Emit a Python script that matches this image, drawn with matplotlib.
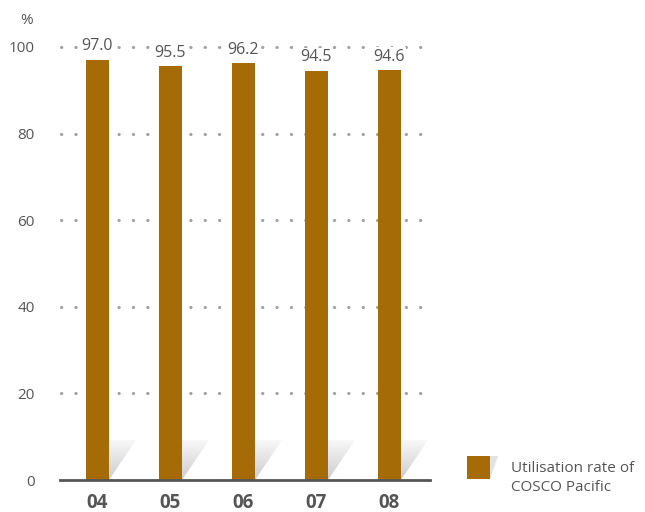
#import libraries
import numpy as np
import matplotlib.pyplot as plt
from matplotlib.patches import Polygon, Rectangle

plt.rcParams['font.family'] = ['Open Sans', 'DejaVu Sans']

#data
years = ['04', '05', '06', '07', '08']
utilisation = [97.0, 95.5, 96.2, 94.5, 94.6]
legend_label = 'Utilisation rate of\nCOSCO Pacific'

bar_color = '#A46B07'
text_color = '#555555'

fig = plt.figure(figsize=(6.45, 5.12), dpi=100)
ax = fig.add_axes([60/645, 32/512, 370/645, 433/512])

x = np.arange(len(years))
width = 0.315
ax.bar(x, utilisation, width=width, color=bar_color, zorder=3)

#shadow wedges with a grey gradient next to each bar
grad = np.linspace(0.97, 0.80, 100).reshape(-1, 1)
for xi in x:
    x0 = xi + width / 2
    tri = Polygon([[x0, 0], [x0, 9.2], [x0 + 0.37, 9.2]], closed=True,
                  facecolor='none', edgecolor='none')
    ax.add_patch(tri)
    im = ax.imshow(grad[::-1], cmap='gray', vmin=0, vmax=1, aspect='auto',
                   extent=[x0, x0 + 0.37, 0, 9.2], zorder=2, origin='lower')
    im.set_clip_path(tri)

#value labels
for xi, v in zip(x, utilisation):
    ax.text(xi, v + 1.3, f'{v:.1f}', ha='center', va='bottom', zorder=5,
            fontsize=11.5, color=text_color,
            bbox=dict(facecolor='white', edgecolor='none', pad=1))

#dotted grid lines
for yv in [20, 40, 60, 80, 100]:
    ax.plot([-0.5, 4.55], [yv, yv], linestyle=(0, (0.1, 4.6)), linewidth=2.2,
            dash_capstyle='round', color='#a0a0a0', zorder=1, clip_on=False)

ax.set_xlim(-0.507, 4.56)
ax.set_ylim(0, 100)
ax.set_yticks([0, 20, 40, 60, 80, 100])
ax.set_yticklabels(['0', '20', '40', '60', '80', '100'], fontsize=11, color=text_color)
ax.set_xticks(x)
ax.set_xticklabels(years, fontsize=13.5, fontweight='bold', color=text_color)
ax.tick_params(axis='both', length=0)
ax.tick_params(axis='y', pad=18)
ax.tick_params(axis='x', pad=9)
for s in ['top', 'right', 'left']:
    ax.spines[s].set_visible(False)
ax.spines['bottom'].set_color(text_color)
ax.spines['bottom'].set_linewidth(2)
ax.spines['bottom'].set_zorder(4)
ax.set_facecolor('none')

fig.text(27/645, 1 - 20/512, '%', ha='center', va='center', fontsize=11, color=text_color)

#legend
fig.patches.append(Polygon([[490/645, 1 - 479/512], [490/645, 1 - 456/512], [498/645, 1 - 456/512]],
                           closed=True, transform=fig.transFigure, facecolor='#e2e2e2',
                           edgecolor='none'))
fig.patches.append(Rectangle((467/645, 1 - 479/512), 23/645, 23/512, transform=fig.transFigure,
                             facecolor=bar_color, edgecolor='none'))
fig.text(511/645, 1 - 478/512, legend_label, ha='left', va='center', fontsize=11,
         color=text_color, linespacing=1.35)

fig.savefig('out.png', dpi=100)
